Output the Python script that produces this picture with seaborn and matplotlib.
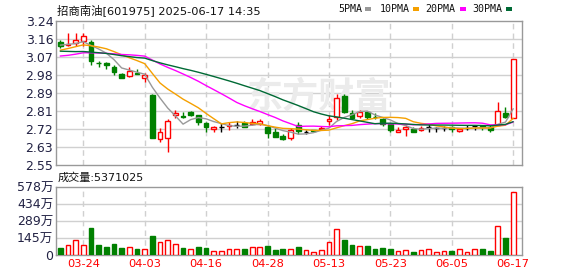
import numpy as np
import pandas as pd
import matplotlib
matplotlib.use("Agg")
import matplotlib.pyplot as plt
from matplotlib.patches import Rectangle
import seaborn as sns

# ---------------- data ----------------
dates = ["03-19","03-20","03-21","03-24","03-25","03-26","03-27","03-28","03-31",
         "04-01","04-02","04-03","04-07","04-08","04-09","04-10","04-11","04-14",
         "04-15","04-16","04-17","04-18","04-21","04-22","04-23","04-24","04-25",
         "04-28","04-29","04-30","05-06","05-07","05-08","05-09","05-12","05-13",
         "05-14","05-15","05-16","05-19","05-20","05-21","05-22","05-23","05-26",
         "05-27","05-28","05-29","05-30","06-03","06-04","06-05","06-06","06-09",
         "06-10","06-11","06-12","06-13","06-16","06-17"]

opens = [3.141,3.126,3.135,3.144,3.138,3.039,3.037,3.021,2.985,2.975,
         2.989,2.966,2.885,2.673,2.681,2.790,2.786,2.802,2.790,2.751,
         2.721,2.734,2.735,2.742,2.750,2.748,2.745,2.732,2.707,2.690,
         2.681,2.742,2.707,2.716,2.721,2.761,2.782,2.881,2.798,2.785,
         2.802,2.782,2.770,2.745,2.710,2.721,2.721,2.718,2.734,2.729,
         2.729,2.732,2.714,2.729,2.737,2.737,2.732,2.742,2.801,2.774]
highs = [3.149,3.181,3.181,3.181,3.149,3.048,3.045,3.029,2.992,3.021,
         3.010,2.989,2.890,2.726,2.771,2.814,2.806,2.808,2.790,2.758,
         2.738,2.750,2.754,2.761,2.761,2.770,2.770,2.742,2.726,2.697,
         2.726,2.754,2.716,2.720,2.735,2.790,2.889,2.889,2.814,2.814,
         2.808,2.798,2.774,2.750,2.732,2.742,2.732,2.737,2.745,2.734,
         2.737,2.737,2.724,2.742,2.742,2.742,2.742,2.853,2.829,3.058]
lows = [3.111,3.122,3.122,3.122,3.029,3.021,3.010,2.981,2.966,2.973,
        2.985,2.949,2.681,2.659,2.611,2.774,2.774,2.785,2.742,2.710,
        2.710,2.710,2.718,2.726,2.731,2.742,2.740,2.681,2.684,2.670,
        2.670,2.697,2.700,2.710,2.717,2.742,2.766,2.798,2.774,2.774,
        2.770,2.770,2.735,2.707,2.710,2.690,2.710,2.714,2.710,2.710,
        2.712,2.710,2.707,2.716,2.716,2.718,2.710,2.742,2.774,2.774]
closes = [3.122,3.128,3.149,3.166,3.050,3.037,3.028,2.994,2.966,3.000,
          2.985,2.981,2.681,2.707,2.761,2.798,2.782,2.790,2.755,2.731,
          2.732,2.734,2.740,2.742,2.734,2.754,2.761,2.702,2.684,2.673,
          2.718,2.713,2.707,2.714,2.729,2.770,2.873,2.805,2.777,2.806,
          2.781,2.780,2.745,2.718,2.718,2.732,2.710,2.729,2.734,2.729,
          2.729,2.721,2.721,2.729,2.737,2.732,2.718,2.809,2.782,3.058]
# closes before the visible window (only used for the moving averages)
prior_closes = [3.16,3.18,3.15,3.14,3.12,3.13,3.15,3.14,3.13,3.12,
                3.06,3.04,3.03,3.05,3.06,3.06,3.04,3.03,3.03,3.04,
                3.05,3.06,3.08,3.09,3.10,
                3.11,3.13,3.12,3.14]

volumes = [59,82,127,82,228,85,68,93,59,65,
           51,51,161,110,127,93,59,51,68,59,
           34,34,48,48,51,65,65,76,45,51,
           48,65,42,23,42,110,217,127,85,73,
           76,51,59,51,34,42,25,42,48,25,
           34,34,48,25,48,48,34,245,147,537.1]   # 万
vol_dir = list("duuudddddu" "duduuududd" "uuuuduuddd"
               "uduuuuuddu" "dddduuduuu" "uduuuddudu")

ma_periods = [5, 10, 20, 30]
ma_names = ["5PMA", "10PMA", "20PMA", "30PMA"]
ma_colors = ["#999999", "#f5a000", "#ff00ff", "#006a35"]

price_tick_labels = ["2.55","2.63","2.72","2.81","2.89","2.98","3.07","3.16","3.24"]
vol_tick_labels = ["0","145万","289万","434万","578万"]
label_dates = ["03-24","04-03","04-16","04-28","05-13","05-23","06-05","06-17"]

title = "招商南油[601975] 2025-06-17 14:35"
vol_title = "成交量:5371025"

# ---------------- style ----------------
sns.set_theme(style="white")
plt.rcParams["font.family"] = ["DejaVu Sans", "Noto Sans CJK SC"]

RED = "#ff0000"
GREEN = "#008000"
GRID = "#d0d0d0"
SPINE = "#999999"

n = len(closes)
x = np.arange(n)
o = np.array(opens); c = np.array(closes); h = np.array(highs); l = np.array(lows)

all_close = pd.Series(list(prior_closes) + list(closes))
ma_df = pd.DataFrame({"idx": x})
for p, name in zip(ma_periods, ma_names):
    ma_df[name] = all_close.rolling(p).mean().values[len(prior_closes):]

fig = plt.figure(figsize=(5.78, 2.76), dpi=100)
ax = fig.add_axes([56/578, 1-165/276, 466/578, 144/276])
axv = fig.add_axes([56/578, 1-255/276, 466/578, 68/276])

label_pos = [dates.index(d) for d in label_dates]

for a in (ax, axv):
    for s in a.spines.values():
        s.set_color(SPINE)
        s.set_linewidth(1)
    for lp in label_pos:
        a.axvline(lp, color=GRID, lw=1, ls=(0, (4, 3)), zorder=0)
    a.tick_params(axis="both", length=0, pad=2, labelsize=9)

# price panel
ax.set_ylim(2.55, 3.24)
yt = np.linspace(2.55, 3.24, 9)
ax.set_yticks(yt)
ax.set_yticklabels(price_tick_labels, color="#222244")
for v in yt[1:-1]:
    ax.axhline(v, color=GRID, lw=1, zorder=0)

# watermark
ax.text(0.565, 0.47, "东方财富", transform=ax.transAxes, fontsize=26,
        fontweight="bold", color="#ebebeb", ha="center", va="center",
        family=["Noto Sans CJK SC"], zorder=0)

up = c > o
down = c < o
flat = ~(up | down)
wick_col = np.where(up, RED, np.where(down, GREEN, "#000000"))
ax.vlines(x, l, h, colors=wick_col, lw=1, zorder=2)
body_bottom = np.minimum(o, c)
body_h = np.abs(c - o)
ax.bar(x[up], body_h[up], bottom=body_bottom[up], width=0.62,
       facecolor="white", edgecolor=RED, lw=1, zorder=3)
ax.bar(x[down], body_h[down], bottom=body_bottom[down], width=0.62,
       facecolor=GREEN, edgecolor=GREEN, lw=1, zorder=3)
ax.hlines(o[flat], x[flat] - 0.31, x[flat] + 0.31, colors="#000000", lw=1, zorder=3)

for name, col in zip(ma_names, ma_colors):
    sns.lineplot(data=ma_df, x="idx", y=name, ax=ax, color=col, lw=1, zorder=4)
ax.set_xlabel(""); ax.set_ylabel("")
ax.set_xticks([])
ax.set_xlim(-0.55, n + 0.15)

# volume panel
vol = np.array(volumes)
vup = np.array([ch == "u" for ch in vol_dir])
axv.set_ylim(0, 578)
vt = np.linspace(0, 578, 5)
axv.set_yticks(vt)
axv.set_yticklabels(vol_tick_labels, color="#222244")
for v in vt[1:-1]:
    axv.axhline(v, color=GRID, lw=1, zorder=0)
axv.bar(x[vup], vol[vup], width=0.62, facecolor="white", edgecolor=RED, lw=1, zorder=3)
axv.bar(x[~vup], vol[~vup], width=0.62, facecolor=GREEN, edgecolor=GREEN, lw=1, zorder=3)
axv.set_xticks(label_pos)
axv.set_xticklabels(label_dates, color=RED, fontsize=8.2)
axv.tick_params(axis="x", pad=3)
axv.set_xlim(-0.55, n + 0.15)

# texts
fig.text(57/578, 1-10/276, title, fontsize=8.2, color="#111111", va="center", ha="left")
fig.text(58/578, 1-178/276, vol_title, fontsize=8, color="#111111", va="center", ha="left")

legend_x = [338, 380, 425, 472]
square_x = [365, 413, 460, 506]
for name, col, tx, sx in zip(ma_names, ma_colors, legend_x, square_x):
    fig.text(tx/578, 1-9/276, name, fontsize=7.2, color="#111111", va="center",
             ha="left", family=["DejaVu Sans Mono"])
    fig.patches.append(Rectangle((sx/578, 1-10.5/276), 6/578, 3/276,
                                 transform=fig.transFigure, facecolor=col,
                                 edgecolor="none"))

fig.savefig("out.png", dpi=100, facecolor="white")
